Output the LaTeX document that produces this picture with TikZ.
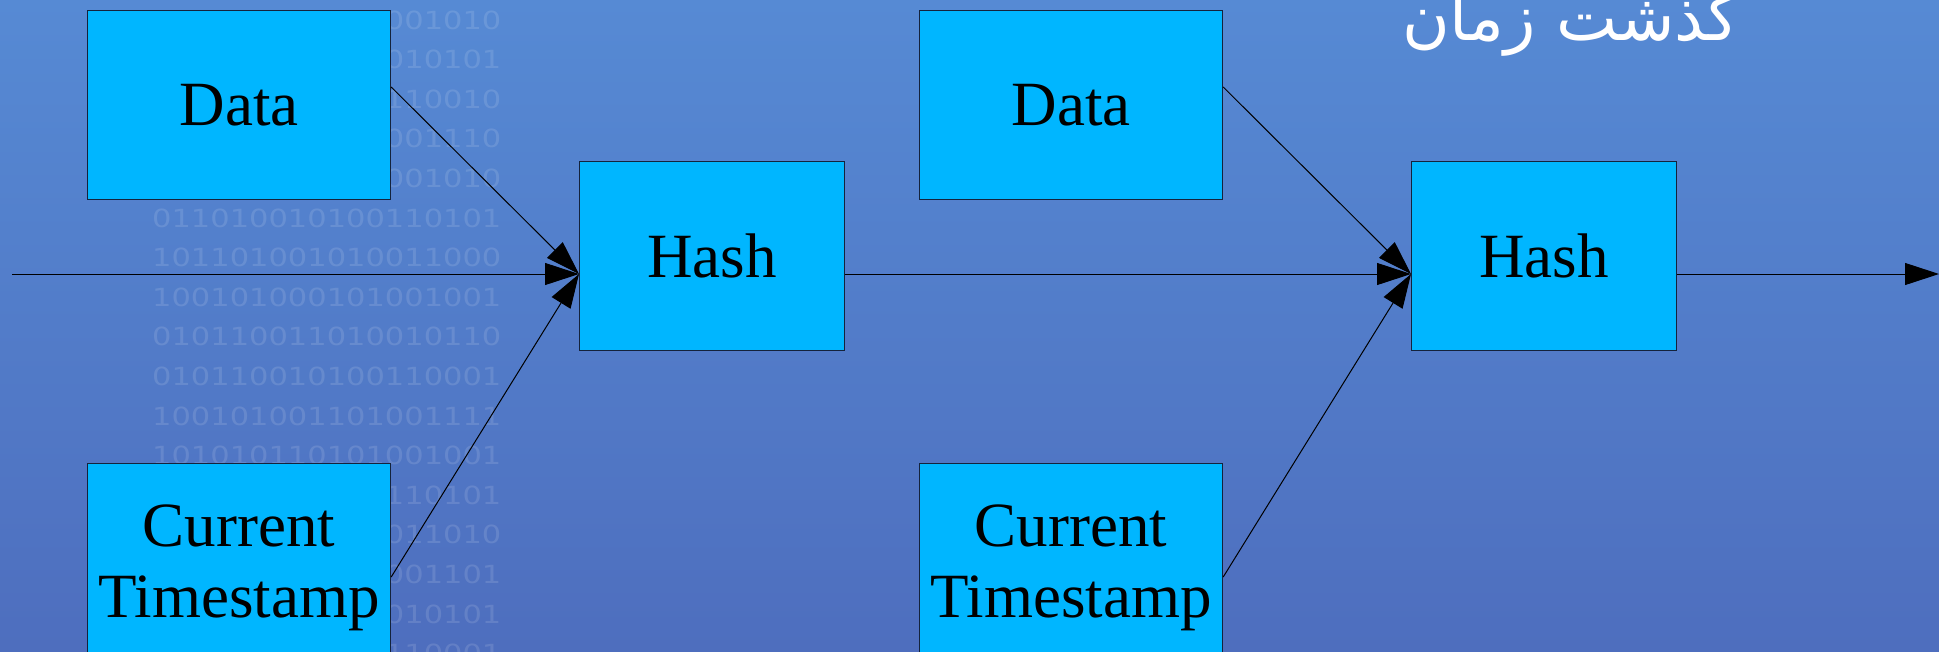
\documentclass[tikz,border=0pt]{standalone}
\usepackage{fontspec}
\setmainfont{Liberation Serif}
\newfontfamily\binfont{DejaVu Sans}
\newfontfamily\arabicfont[Script=Arabic]{DejaVu Sans}
\TeXXeTstate=1
\usetikzlibrary{arrows.meta,calc}
\definecolor{bgtop}{RGB}{86,138,212}
\definecolor{bgbot}{RGB}{78,110,190}
\definecolor{boxfill}{RGB}{0,182,255}
\definecolor{boxline}{RGB}{20,35,60}
\begin{document}
\begin{tikzpicture}[x=1pt,y=-1pt,
  blk/.style={draw=boxline,line width=1.2pt,fill=boxfill,minimum width=303pt,minimum height=189pt,inner sep=0pt,font=\fontsize{63}{71}\selectfont,align=center,anchor=north west},
  hsh/.style={blk,minimum width=265pt},
  tsb/.style={blk,minimum height=209pt},
  conn/.style={black,line width=1pt,-{Triangle[length=34pt,width=22pt]}},
  bits/.style={anchor=west,inner sep=0pt,text=white,text opacity=0.12,font=\binfont\fontsize{25}{25}\selectfont}]
\fill[top color=bgtop,bottom color=bgbot] (0,0) rectangle (1939,651);
\useasboundingbox (0,0) rectangle (1939,651);
% binary background
\foreach \s [count=\k from 0] in {
  100110010100001010,011001010110010101,010110100101110010,
  101001011010001110,010110100100001010,011010010100110101,
  101101001010011000,100101000101001001,010110011010010110,
  010110010100110001,100101001101001111,101010110101001001,
  010011010100110101,100101100101011010,011010011010001101,
  101001010110010101,010110100101110001}
  \node[bits] (b\k) at (152,{20+39.6*\k}) {\scalebox{1.22}[1]{\s}};
% title
\node[anchor=base east,text=white,font=\arabicfont\fontsize{65}{65}\selectfont,inner sep=0pt] (title) at (1740,40) {\beginR گذشت زمان\endR};
% boxes
\node[blk] (d1) at (87,10) {Data};
\node[hsh] (h1) at (579,161) {Hash};
\node[tsb] (t1) at (87,463) {Current\\Timestamp};
\node[blk] (d2) at (919,10) {Data};
\node[hsh] (h2) at (1411,161) {Hash};
\node[tsb] (t2) at (919,463) {Current\\Timestamp};
% ports
\coordinate (d1o) at ($(d1.north east)+(0,77)$);
\coordinate (t1o) at ($(t1.north east)+(0,114)$);
\coordinate (d2o) at ($(d2.north east)+(0,77)$);
\coordinate (t2o) at ($(t2.north east)+(0,114)$);
\coordinate (h1i) at ($(h1.north west)+(0,113)$);
\coordinate (h1o) at ($(h1.north east)+(0,113)$);
\coordinate (h2i) at ($(h2.north west)+(0,113)$);
\coordinate (h2o) at ($(h2.north east)+(0,113)$);
\coordinate (s0) at (12,274);
\coordinate (e0) at (1939,274);
% connectors
\draw[conn] (s0) -- (h1i);
\draw[conn] (d1o) -- (h1i);
\draw[conn] (t1o) -- (h1i);
\draw[conn] (h1o) -- (h2i);
\draw[conn] (d2o) -- (h2i);
\draw[conn] (t2o) -- (h2i);
\draw[conn] (h2o) -- (e0);
\end{tikzpicture}
\end{document}
